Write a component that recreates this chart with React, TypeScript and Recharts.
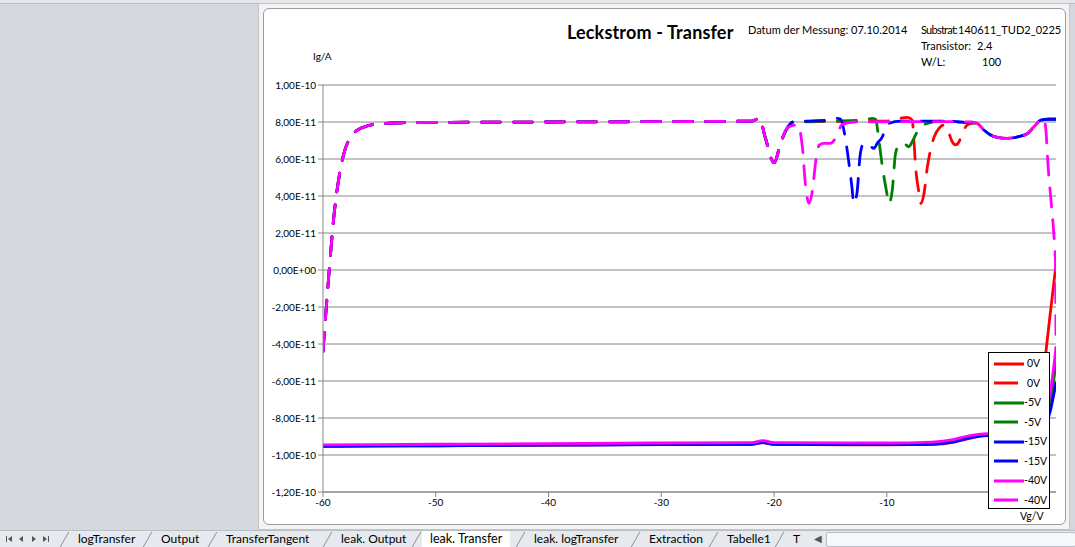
import { CartesianGrid, Legend, Line, LineChart, XAxis, YAxis } from "recharts";

// Vg in V, Ig in units of 1e-11 A
const xTicks = [-60, -50, -40, -30, -20, -10, 0];
const yTicks = [-12, -10, -8, -6, -4, -2, 0, 2, 4, 6, 8, 10];

// solid curves (one sweep direction)
const solidVg = [-60, -50, -40, -30, -22, -21, -20, -10, -6, -4, -3, -2, -1, 0, 1, 2, 3, 3.5, 4, 4.5, 5];
const red0Solid = [-9.55, -9.5, -9.47, -9.43, -9.42, -9.33, -9.43, -9.45, -9.43, -9.3, -9.15, -9.0, -8.95, -8.95, -8.95, -8.9, -8.7, -8.0, -5.0, -2.3, 0.3];
const green5Solid = [-9.5, -9.48, -9.45, -9.42, -9.4, -9.3, -9.4, -9.42, -9.4, -9.25, -9.1, -8.98, -8.92, -8.9, -8.9, -8.85, -8.75, -8.6, -8.2, -7.2, -5.0];
const blue15Solid = [-9.52, -9.5, -9.47, -9.44, -9.42, -9.33, -9.42, -9.44, -9.42, -9.28, -9.12, -9.0, -8.95, -8.92, -8.92, -8.88, -8.8, -8.7, -8.5, -7.6, -6.1];
const mag40Solid = [-9.45, -9.42, -9.38, -9.35, -9.33, -9.22, -9.33, -9.35, -9.3, -9.15, -9.0, -8.9, -8.85, -8.85, -8.85, -8.8, -8.7, -8.5, -7.9, -6.6, -4.2];

// dashed curves (other sweep direction): shared start
const dashStartVg = [-60, -59.5, -59, -58.5, -58, -57.5, -57, -56, -55, -53, -50, -40, -30, -22, -21.3, -20.8, -20, -19.4, -18.8];
const dashStartIg = [-4.4, -0.4, 3.1, 5.3, 6.6, 7.2, 7.55, 7.8, 7.9, 7.96, 7.98, 8.0, 8.02, 8.05, 8.2, 7.2, 5.8, 6.9, 7.7];

// shared end section
const dashEndVg = [-2.0, -1.4, -0.8, -0.2, 0.7, 1.6, 2.5, 3.05, 3.65, 4.3, 5];
const dashEndIg = [7.93, 7.57, 7.3, 7.17, 7.12, 7.2, 7.39, 7.75, 8.1, 8.15, 8.15];

const red0MidVg = [-18.3, -15, -10, -8.2, -7.75, -7.6, -7.45, -7.15, -7.0, -6.7, -6.4, -6.12, -5.8, -5.38, -4.94, -4.5, -4.2, -3.9, -3.6, -3.3, -2.86, -2.27];
const red0MidIg = [8.0, 8.03, 8.05, 8.25, 8.1, 7.0, 5.6, 4.15, 3.6, 4.15, 5.6, 6.5, 7.2, 7.66, 7.84, 7.39, 6.93, 6.76, 6.93, 7.39, 7.84, 7.96];

const green5MidVg = [-18.3, -15, -12, -11.3, -11.0, -10.7, -10.4, -10.0, -9.82, -9.52, -9.23, -8.93, -8.5, -8.05, -7.75, -7.45, -7.0, -6.4, -5.2, -2.5];
const green5MidIg = [8.0, 8.05, 8.1, 8.2, 8.15, 7.0, 5.6, 4.15, 3.6, 4.3, 6.3, 6.76, 6.85, 6.66, 6.93, 7.3, 7.75, 7.93, 8.05, 7.95];

const blue15MidVg = [-18.3, -17, -15, -14.4, -14.1, -13.7, -13.4, -13.1, -12.93, -12.65, -12.35, -12.05, -11.6, -11.15, -10.85, -10.4, -10.1, -9.8, -8.8, -5, -2.5];
const blue15MidIg = [8.0, 8.05, 8.1, 8.2, 8.15, 7.2, 5.95, 4.5, 3.6, 4.15, 6.3, 6.85, 6.76, 6.58, 6.85, 7.2, 7.66, 7.93, 8.05, 8.05, 7.95];

const mag40MidVg = [-17.9, -17.5, -17.2, -16.9, -16.6, -16.3, -16.0, -15.6, -15.0, -14.4, -14.0, -13.0, -5, -2.5];
const mag40MidIg = [7.85, 6.7, 4.5, 3.6, 4.3, 5.9, 6.75, 6.85, 6.85, 7.3, 7.85, 8.0, 8.02, 8.0];
const mag40EndVg = [-2.0, -1.4, -0.8, -0.2, 0.7, 1.6, 2.5, 3.05, 3.65, 3.9, 4.1, 4.3, 4.55, 4.8, 4.95, 5];
const mag40EndIg = [7.93, 7.57, 7.3, 7.17, 7.12, 7.2, 7.39, 7.75, 8.1, 8.2, 7.6, 5.6, 3.8, 2.0, 0.5, -4.3];

const toRows = (vg: number[], ig: number[]) => vg.map((v, i) => ({ vg: v, ig: ig[i] }));

const series = [
  { name: "0V", color: "#ff0000", dashed: false, data: toRows(solidVg, red0Solid) },
  { name: "0V", color: "#ff0000", dashed: true, data: toRows([...dashStartVg, ...red0MidVg, ...dashEndVg], [...dashStartIg, ...red0MidIg, ...dashEndIg]) },
  { name: "-5V", color: "#008000", dashed: false, data: toRows(solidVg, green5Solid) },
  { name: "-5V", color: "#008000", dashed: true, data: toRows([...dashStartVg, ...green5MidVg, ...dashEndVg], [...dashStartIg, ...green5MidIg, ...dashEndIg]) },
  { name: "-15V", color: "#0000ff", dashed: false, data: toRows(solidVg, blue15Solid) },
  { name: "-15V", color: "#0000ff", dashed: true, data: toRows([...dashStartVg, ...blue15MidVg, ...dashEndVg], [...dashStartIg, ...blue15MidIg, ...dashEndIg]) },
  { name: "-40V", color: "#ff00ff", dashed: false, data: toRows(solidVg, mag40Solid) },
  { name: "-40V", color: "#ff00ff", dashed: true, data: toRows([...dashStartVg, ...mag40MidVg, ...mag40EndVg], [...dashStartIg, ...mag40MidIg, ...mag40EndIg]) },
];

const sheetTabs = ["logTransfer", "Output", "TransferTangent", "leak. Output", "leak. Transfer", "leak. logTransfer", "Extraction", "Tabelle1", "T"];
const tabPos = [78, 161, 226, 341, 430, 534, 649, 727, 793];
const activeTab = "leak. Transfer";

const FONT = "Lato, 'Open Sans', sans-serif";

// 8,00E-11 style
const sciLabel = (v: number) => {
  const s = (v * 1e-11).toExponential(2).replace(".", ",");
  return s.replace(/e([+-])(\d+)$/, (_m, sign, exp) => "E" + sign + exp.padStart(2, "0"));
};

const LegendBox = () => (
  <div
    style={{
      width: 62,
      height: 157,
      boxSizing: "border-box",
      border: "1px solid #000",
      background: "#fff",
      paddingTop: 1,
    }}
  >
    {series.map((s, i) => (
      <div key={i} style={{ height: 19.5, position: "relative" }}>
        <svg width={36} height={8} style={{ position: "absolute", left: 3, top: 5.5 }}>
          <line x1={2} x2={s.dashed ? 26 : 32} y1={4} y2={4} stroke={s.color} strokeWidth={3} />
        </svg>
        <span
          style={{
            position: "absolute",
            left: s.name === "0V" ? 38 : 35,
            top: 3,
            fontSize: 10.5,
            fontFamily: FONT,
            color: "#000",
          }}
        >
          {s.name}
        </span>
      </div>
    ))}
  </div>
);

const text = (content: string, left: number, top: number, size: number, extra: object = {}) => (
  <div
    style={{
      position: "absolute",
      left,
      top,
      fontSize: size,
      lineHeight: `${size + 4}px`,
      fontFamily: FONT,
      color: "#000",
      whiteSpace: "nowrap",
      ...extra,
    }}
  >
    {content}
  </div>
);

export default function App() {
  return (
    <div
      style={{
        position: "fixed",
        left: 0,
        top: 0,
        width: 1075,
        height: 547,
        background: "#d5d9de",
        overflow: "hidden",
        fontFamily: FONT,
      }}
    >
      {/* top strip */}
      <div style={{ position: "absolute", left: 0, top: 0, width: 1075, height: 3, background: "#e4e7eb", borderBottom: "1px solid #b9bec5" }} />
      {/* selection frame */}
      <div
        style={{
          position: "absolute",
          left: 258,
          top: 3,
          width: 810,
          height: 525,
          background: "#f4f4f4",
          border: "1px solid #c4c4c4",
        }}
      />
      {/* chart area */}
      <div
        style={{
          position: "absolute",
          left: 263,
          top: 8,
          width: 801,
          height: 515,
          background: "#fff",
          border: "1px solid #9c9c9c",
          borderRadius: 6,
        }}
      />

      {text("Leckstrom - Transfer", 567, 21, 18, { fontWeight: 700, letterSpacing: 0.15 })}
      {text("Datum der Messung: 07.10.2014", 748, 22, 11)}
      {text("Substrat:", 921, 22, 11, { letterSpacing: -0.75 })}
      {text("140611_TUD2_0225", 958, 22, 11)}
      {text("Transistor:", 921, 38, 11)}
      {text("2.4", 977, 38, 11)}
      {text("W/L:", 921, 54, 11)}
      {text("100", 982, 54, 11)}
      {text("Ig/A", 313, 49, 10)}
      {text("Vg/V", 1020, 509, 10.5)}

      <div style={{ position: "absolute", left: 263, top: 8 }}>
        <LineChart width={805} height={520} margin={{ top: 77, right: 12, left: 0, bottom: 6 }}>
          <CartesianGrid vertical={false} stroke="#868686" horizontalValues={yTicks} />
          <XAxis
            type="number"
            dataKey="vg"
            domain={[-60, 5]}
            ticks={xTicks}
            allowDataOverflow
            height={30}
            stroke="#868686"
            tickSize={5}
            tick={{ fill: "#000", fontSize: 10, fontFamily: FONT }}
          />
          <YAxis
            type="number"
            domain={[-12, 10]}
            ticks={yTicks}
            allowDataOverflow
            width={60}
            stroke="#868686"
            tickSize={5}
            tickFormatter={sciLabel}
            tick={{ fill: "#000", fontSize: 10, fontFamily: FONT }}
          />
          {series.map((s, i) => (
            <Line
              key={i}
              data={s.data}
              dataKey="ig"
              name={s.name}
              type="monotone"
              stroke={s.color}
              strokeWidth={2.8}
              strokeDasharray={s.dashed ? "19 13" : undefined}
              strokeLinecap="round"
              dot={false}
              activeDot={false}
              isAnimationActive={false}
            />
          ))}
          <Legend
            layout="vertical"
            align="center"
            verticalAlign="middle"
            wrapperStyle={{ left: 725, top: 344, width: 62, height: 157 }}
            content={() => <LegendBox />}
          />
        </LineChart>
      </div>

      {/* sheet tab bar */}
      <div style={{ position: "absolute", left: 0, top: 530, width: 1075, height: 17, background: "#e6e9ed", borderTop: "1px solid #b9bec5" }} />
      <svg style={{ position: "absolute", left: 4, top: 533 }} width={50} height={12}>
        <rect x={2} y={3} width={1} height={6} fill="#555" />
        <polygon points="8,3 8,9 4,6" fill="#555" />
        <polygon points="19,3 19,9 15,6" fill="#555" />
        <polygon points="28,3 28,9 32,6" fill="#555" />
        <polygon points="39,3 39,9 43,6" fill="#555" />
        <rect x={44} y={3} width={1} height={6} fill="#555" />
      </svg>
      {sheetTabs.map((t, i) => (
        <div
          key={t}
          style={{
            position: "absolute",
            left: tabPos[i] - (t === activeTab ? 8 : 0),
            top: 531,
            height: 16,
            padding: t === activeTab ? "0 8px" : 0,
            background: t === activeTab ? "#fff" : "transparent",
            fontSize: t === activeTab ? 12.5 : 12,
            lineHeight: "16px",
            fontFamily: FONT,
            color: "#000",
            whiteSpace: "nowrap",
          }}
        >
          {t}
        </div>
      ))}
      {tabPos.map((x, i) => (
        <div key={"sep" + i} style={{ position: "absolute", left: x - 14, top: 532, width: 1, height: 15, background: "#8a8f96", transform: "skewX(-30deg)" }} />
      ))}
      <div style={{ position: "absolute", left: 814, top: 532, width: 10, height: 14, fontSize: 10, color: "#555" }}>◀</div>
      <div style={{ position: "absolute", left: 826, top: 532, width: 248, height: 13, background: "#f7f8f9", border: "1px solid #b9bec5", borderRadius: 2 }} />
    </div>
  );
}
